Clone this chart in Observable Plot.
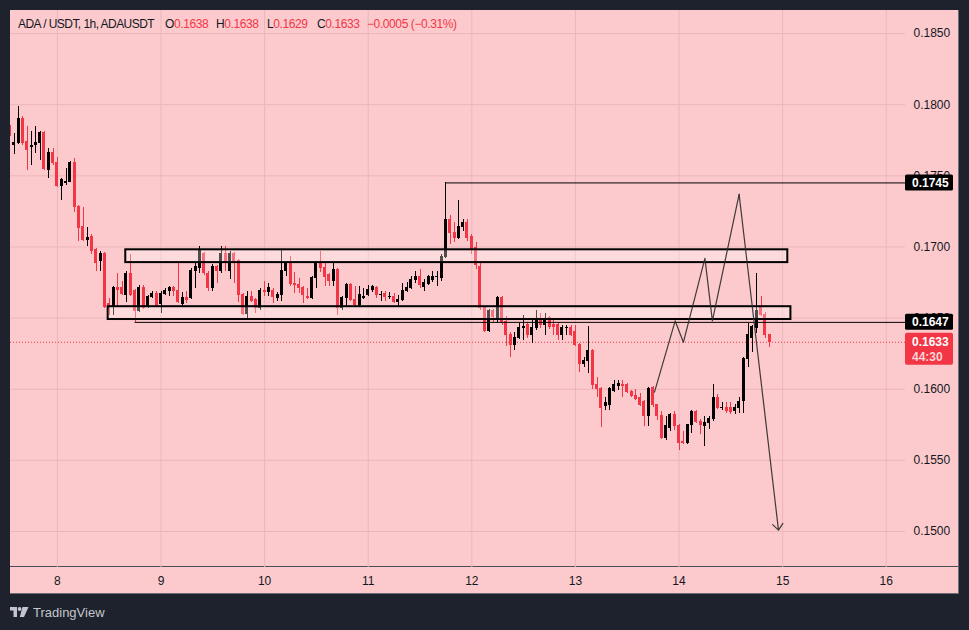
<!DOCTYPE html>
<html><head><meta charset="utf-8">
<script src="https://cdn.jsdelivr.net/npm/d3@7"></script>
<script src="https://cdn.jsdelivr.net/npm/@observablehq/plot@0.6"></script>
<style>
body{margin:0;background:#1e222d;}
#wrap{position:relative;width:969px;height:630px;background:#1e222d;overflow:hidden;font-family:'Liberation Sans',Arial,sans-serif;}
#panel{position:absolute;left:10px;top:10px;width:948px;height:583px;background:#fccacd;border-right:1px solid #6b6e78;border-bottom:1px solid #6b6e78;}
#chart{position:absolute;left:0;top:0;}
#sep{position:absolute;left:10px;top:566px;width:948px;height:1px;background:#4a4d57;}
#title{position:absolute;left:0;top:16px;width:600px;height:16px;font-size:12px;line-height:16px;color:#131722;white-space:nowrap;letter-spacing:-0.4px;}
#title span.seg{position:absolute;top:0;}
#title span.sym{letter-spacing:-0.55px;}
.red{color:#f23645}
#logo{position:absolute;left:10px;top:603px;height:18px;display:flex;align-items:center;gap:4px;color:#c3c6ce;font-size:13px;}
</style></head>
<body><div id="wrap"><div id="panel"></div><div id="sep"></div><div id="chart"></div><div id="title"></div>
<div id="logo"><svg width="19" height="10" viewBox="0 0 19 10"><path d="M0 0h7v10h-3.5v-6.5h-3.5z" fill="#c3c6ce"/><circle cx="9.6" cy="2" r="1.9" fill="#c3c6ce"/><path d="M12.5 0h6l-4.5 10h-4.2z" fill="#c3c6ce"/></svg><span>TradingView</span></div>
</div>
<script>
// ---- data ----
const symbolTitle = "ADA / USDT, 1h, ADAUSDT";
const countdown = "44:30";
const candleStart = 7 + 13/24;          // first visible hourly candle (day of month)
const opens = [
0.1785,0.1772,0.1773,0.1790,0.1774,0.1770,0.1772,0.1773,0.1780,0.1754,0.1766,
0.1759,0.1743,0.1745,0.1746,0.1759,0.1728,0.1714,0.1705,0.1707,0.1698,0.1690,0.1695,0.1660,0.1658,0.1671,0.1671,0.1666,0.1681,0.1669,0.1655,0.1671,0.1658,0.1665,0.1667,
0.1660,0.1667,0.1669,0.1671,0.1669,0.1660,0.1664,0.1664,0.1683,0.1685,0.1695,0.1681,0.1671,0.1686,0.1683,0.1695,0.1683,0.1695,0.1690,0.1666,0.1653,0.1665,0.1663,0.1657,
0.1669,0.1668,0.1669,0.1664,0.1666,0.1683,0.1688,0.1674,0.1673,0.1671,0.1665,0.1664,0.1678,0.1688,0.1685,0.1680,0.1676,0.1684,0.1657,0.1664,0.1673,0.1663,0.1659,0.1664,
0.1666,0.1670,0.1671,0.1666,0.1667,0.1665,0.1665,0.1661,0.1663,0.1669,0.1671,0.1677,0.1679,0.1672,0.1674,0.1677,0.1679,0.1678,0.1693,0.1719,0.1710,0.1706,0.1714,0.1717,
0.1707,0.1699,0.1686,0.1657,0.1641,0.1655,0.1649,0.1664,0.1647,0.1638,0.1631,0.1636,0.1643,0.1645,0.1638,0.1643,0.1649,0.1645,0.1650,0.1645,0.1645,0.1638,0.1643,0.1643,
0.1640,0.1631,0.1618,0.1620,0.1627,0.1603,0.1600,0.1588,0.1589,0.1599,0.1602,0.1603,0.1603,0.1598,0.1595,0.1594,0.1591,0.1581,0.1601,0.1589,0.1581,0.1566,0.1573,0.1582,
0.1574,0.1563,0.1562,0.1575,0.1584,0.1577,0.1574,0.1576,0.1579,0.1594,0.1587,0.1587,0.1587,0.1585,0.1587,0.1592,0.1621,0.1636,0.1643,0.1657,0.1652,0.1638];
const highs = [
0.1789,0.1780,0.1799,0.1792,0.1785,0.1781,0.1785,0.1781,0.1781,0.1769,0.1769,
0.1763,0.1748,0.1755,0.1760,0.1762,0.1729,0.1728,0.1714,0.1709,0.1699,0.1697,0.1696,0.1664,0.1672,0.1681,0.1676,0.1683,0.1695,0.1670,0.1673,0.1673,0.1666,0.1669,0.1669,
0.1669,0.1671,0.1672,0.1672,0.1689,0.1668,0.1669,0.1685,0.1689,0.1700,0.1696,0.1683,0.1688,0.1687,0.1700,0.1700,0.1697,0.1696,0.1691,0.1667,0.1669,0.1669,0.1664,0.1671,
0.1676,0.1674,0.1671,0.1668,0.1698,0.1689,0.1693,0.1682,0.1678,0.1672,0.1671,0.1679,0.1690,0.1697,0.1690,0.1681,0.1689,0.1685,0.1665,0.1674,0.1674,0.1672,0.1672,0.1671,
0.1673,0.1673,0.1672,0.1669,0.1669,0.1668,0.1667,0.1666,0.1674,0.1675,0.1679,0.1683,0.1684,0.1677,0.1680,0.1683,0.1683,0.1695,0.1745,0.1722,0.1717,0.1733,0.1719,0.1719,
0.1709,0.1703,0.1690,0.1658,0.1656,0.1656,0.1665,0.1665,0.1651,0.1640,0.1640,0.1646,0.1652,0.1647,0.1648,0.1655,0.1653,0.1653,0.1651,0.1650,0.1647,0.1645,0.1645,0.1645,
0.1645,0.1632,0.1622,0.1644,0.1628,0.1608,0.1601,0.1594,0.1601,0.1606,0.1606,0.1606,0.1604,0.1599,0.1600,0.1597,0.1592,0.1601,0.1602,0.1589,0.1584,0.1581,0.1583,0.1584,
0.1575,0.1570,0.1575,0.1585,0.1585,0.1579,0.1581,0.1581,0.1603,0.1596,0.1591,0.1591,0.1591,0.1589,0.1594,0.1622,0.1646,0.1645,0.1681,0.1665,0.1654,0.1638];
const lows = [
0.1777,0.1765,0.1772,0.1771,0.1754,0.1757,0.1766,0.1761,0.1754,0.1748,0.1757,
0.1742,0.1733,0.1743,0.1745,0.1724,0.1704,0.1704,0.1700,0.1695,0.1683,0.1683,0.1657,0.1652,0.1652,0.1658,0.1666,0.1661,0.1665,0.1647,0.1654,0.1656,0.1657,0.1664,0.1658,
0.1653,0.1666,0.1665,0.1665,0.1660,0.1658,0.1660,0.1663,0.1671,0.1681,0.1680,0.1669,0.1669,0.1674,0.1681,0.1683,0.1677,0.1674,0.1661,0.1652,0.1650,0.1661,0.1653,0.1655,
0.1665,0.1665,0.1660,0.1662,0.1662,0.1679,0.1672,0.1667,0.1667,0.1660,0.1663,0.1663,0.1671,0.1682,0.1672,0.1672,0.1672,0.1652,0.1655,0.1658,0.1662,0.1658,0.1658,0.1663,
0.1665,0.1668,0.1664,0.1662,0.1662,0.1663,0.1660,0.1658,0.1662,0.1668,0.1670,0.1674,0.1671,0.1669,0.1673,0.1675,0.1672,0.1676,0.1692,0.1702,0.1703,0.1705,0.1711,0.1704,
0.1695,0.1684,0.1655,0.1640,0.1640,0.1646,0.1646,0.1645,0.1630,0.1622,0.1627,0.1635,0.1634,0.1636,0.1632,0.1641,0.1643,0.1638,0.1642,0.1638,0.1634,0.1634,0.1638,0.1637,
0.1630,0.1612,0.1615,0.1611,0.1600,0.1594,0.1573,0.1585,0.1585,0.1598,0.1599,0.1594,0.1597,0.1594,0.1592,0.1588,0.1574,0.1574,0.1587,0.1578,0.1565,0.1564,0.1570,0.1571,
0.1557,0.1561,0.1561,0.1569,0.1576,0.1568,0.1560,0.1572,0.1577,0.1586,0.1585,0.1583,0.1582,0.1582,0.1583,0.1583,0.1615,0.1626,0.1639,0.1651,0.1636,0.1629];
const closes = [
0.1778,0.1773,0.1790,0.1773,0.1768,0.1771,0.1773,0.1780,0.1755,0.1766,0.1759,
0.1743,0.1747,0.1746,0.1759,0.1728,0.1713,0.1705,0.1706,0.1697,0.1689,0.1695,0.1658,0.1657,0.1671,0.1670,0.1667,0.1681,0.1666,0.1655,0.1671,0.1657,0.1665,0.1667,0.1659,
0.1667,0.1669,0.1671,0.1669,0.1661,0.1664,0.1663,0.1683,0.1686,0.1697,0.1682,0.1671,0.1686,0.1683,0.1695,0.1689,0.1695,0.1690,0.1666,0.1653,0.1665,0.1662,0.1657,0.1669,
0.1668,0.1671,0.1665,0.1666,0.1683,0.1688,0.1674,0.1673,0.1671,0.1666,0.1664,0.1678,0.1688,0.1685,0.1679,0.1676,0.1684,0.1657,0.1664,0.1673,0.1663,0.1659,0.1666,0.1665,
0.1670,0.1672,0.1666,0.1666,0.1665,0.1665,0.1661,0.1663,0.1669,0.1671,0.1677,0.1679,0.1673,0.1675,0.1679,0.1679,0.1679,0.1693,0.1719,0.1710,0.1706,0.1714,0.1717,0.1706,
0.1698,0.1687,0.1657,0.1641,0.1655,0.1651,0.1664,0.1647,0.1638,0.1631,0.1636,0.1643,0.1644,0.1638,0.1643,0.1649,0.1645,0.1649,0.1644,0.1644,0.1638,0.1643,0.1643,0.1638,
0.1631,0.1618,0.1620,0.1627,0.1603,0.1600,0.1587,0.1590,0.1600,0.1603,0.1604,0.1602,0.1598,0.1595,0.1593,0.1589,0.1581,0.1600,0.1589,0.1581,0.1566,0.1574,0.1582,0.1574,
0.1562,0.1562,0.1575,0.1584,0.1577,0.1575,0.1576,0.1579,0.1594,0.1587,0.1587,0.1585,0.1584,0.1587,0.1591,0.1621,0.1638,0.1644,0.1655,0.1652,0.1638,0.1633];
const dayTicks = [8, 9, 10, 11, 12, 13, 14, 15, 16];
const priceTicks = [0.150, 0.155, 0.160, 0.165, 0.170, 0.175, 0.180, 0.185];
const xDomain = [7.5473, 16.186];
const yDomain = [0.14747, 0.18662];
// drawings
const zoneX1 = [8.66, 8.49];
const zoneX2 = [15.05, 15.08];
const zoneLow = [0.1689, 0.1649];
const zoneHigh = [0.1698, 0.1658];
const rayStart = [8.75, 11.75];
const rayLevel = [0.1647, 0.1745];
const pathDays = [13.763, 13.963, 14.042, 14.25, 14.322, 14.58, 14.96];
const pathPrices = [0.1598, 0.1648, 0.1633, 0.1692, 0.1648, 0.1737, 0.1501];

// ---- build ----
const RED = "#f23645", UP = "#000000";
const candles = opens.map((o, i) => ({t: candleStart + i / 24, o, h: highs[i], l: lows[i], c: closes[i], up: closes[i] >= o}));
const last = candles[candles.length - 1];
const prev = candles[candles.length - 2];
const W = 969, H = 630, mL = 10, mR = 64, mT = 10, mB = 63;
const pxPerDay = (W - mL - mR) / (xDomain[1] - xDomain[0]);
const half = 1.5 / pxPerDay;
const zones = zoneX1.map((x1, i) => ({x1, x2: zoneX2[i], y1: zoneLow[i], y2: zoneHigh[i]}));
const rays = rayLevel.map((v, i) => ({x1: rayStart[i], y: v}));
const pathPts = pathDays.map((x, i) => ({x, y: pathPrices[i]}));
const n = pathPts.length;
const fmt4 = d3.format(".4f");

const chart = Plot.plot({
  width: W, height: H,
  marginLeft: mL, marginRight: mR, marginTop: mT, marginBottom: mB,
  style: "background: transparent; color: #131722; font-family: 'Liberation Sans', Arial, sans-serif; font-size: 12px;",
  x: {domain: xDomain, axis: null},
  y: {domain: yDomain, axis: null},
  marks: [
    Plot.gridY(priceTicks, {stroke: "#ebb6b9", strokeOpacity: 1}),
    Plot.gridX(dayTicks, {stroke: "#ebb6b9", strokeOpacity: 1}),
    Plot.axisY(priceTicks, {anchor: "right", tickSize: 0, tickPadding: 8, tickFormat: fmt4, fontSize: 12, fill: "#131722"}),
    Plot.axisX(dayTicks, {anchor: "bottom", tickSize: 0, tickPadding: 9, tickFormat: d => String(d), fontSize: 12, fill: "#131722"}),
    Plot.ruleY([last.c], {stroke: RED, strokeWidth: 1, strokeDasharray: "1,2"}),
    Plot.ruleX(candles, {x: "t", y1: "l", y2: "h", stroke: d => d.up ? UP : RED, strokeWidth: 1, clip: true, shapeRendering: "crispEdges"}),
    Plot.rect(candles, {x1: d => d.t - half, x2: d => d.t + half, y1: d => Math.min(d.o, d.c), y2: d => Math.max(d.o, d.c),
      fill: d => d.up ? UP : RED, insetTop: -0.5, insetBottom: -0.5, clip: true, shapeRendering: "crispEdges"}),
    Plot.ruleY(rays, {y: "y", x1: "x1", x2: () => xDomain[1], stroke: "#000", strokeWidth: 1}),
    Plot.rect(zones, {x1: "x1", x2: "x2", y1: "y1", y2: "y2", fill: "#ffffff", fillOpacity: 0.3, stroke: "#000", strokeWidth: 2}),
    Plot.line(pathPts.slice(0, n - 1), {x: "x", y: "y", stroke: "#2a2a2a", strokeWidth: 1.2, strokeOpacity: 0.9}),
    Plot.arrow([{x1: pathPts[n - 2].x, y1: pathPts[n - 2].y, x2: pathPts[n - 1].x, y2: pathPts[n - 1].y}],
      {x1: "x1", y1: "y1", x2: "x2", y2: "y2", stroke: "#2a2a2a", strokeWidth: 1.2, strokeOpacity: 0.9, headLength: 10, headAngle: 80})
  ]
});
document.getElementById("chart").appendChild(chart);

// price-axis labels for the rays and last price
const sx = chart.scale("x"), sy = chart.scale("y");
const xr = sx.apply(xDomain[1]);
const g = d3.select(chart).append("g")
  .attr("font-family", "'Liberation Sans', Arial, sans-serif").attr("font-size", 12).attr("text-anchor", "start");
rays.forEach(r => {
  const cy = sy.apply(r.y);
  g.append("rect").attr("x", xr).attr("y", cy - 8).attr("width", 48).attr("height", 16).attr("rx", 1.5).attr("fill", "#000");
  g.append("text").attr("x", xr + 7).attr("y", cy).attr("dy", "0.36em").attr("fill", "#fff").attr("font-weight", "bold").text(fmt4(r.y));
});
{
  const cy = sy.apply(last.c);
  g.append("rect").attr("x", xr).attr("y", cy - 9).attr("width", 48).attr("height", 32).attr("rx", 2).attr("fill", RED);
  g.append("text").attr("x", xr + 7).attr("y", cy).attr("dy", "0.36em").attr("fill", "#fff").attr("font-weight", "bold").text(fmt4(last.c));
  g.append("text").attr("x", xr + 7).attr("y", cy + 15).attr("dy", "0.36em").attr("fill", "#fff").attr("fill-opacity", 0.78).attr("font-weight", "bold").text(countdown);
}

// legend / title line
const minus = s => s.replace("-", "\u2212");
const chg = last.c - prev.c;
const pct = chg / prev.c * 100;
const segs = [
  {x: 18, html: `<span class="sym">${symbolTitle}</span>`},
  {x: 165, html: `O<span class="red">${fmt4(last.o)}</span>`},
  {x: 216, html: `H<span class="red">${fmt4(last.h)}</span>`},
  {x: 267, html: `L<span class="red">${fmt4(last.l)}</span>`},
  {x: 317, html: `C<span class="red">${fmt4(last.c)}</span>`},
  {x: 367, html: `<span class="red">${minus(fmt4(chg))} (${minus(d3.format(".2f")(pct))}%)</span>`}
];
const title = document.getElementById("title");
segs.forEach(s => {
  const el = document.createElement("span");
  el.className = "seg";
  el.style.left = s.x + "px";
  el.innerHTML = s.html;
  title.appendChild(el);
});
</script>
</body></html>
